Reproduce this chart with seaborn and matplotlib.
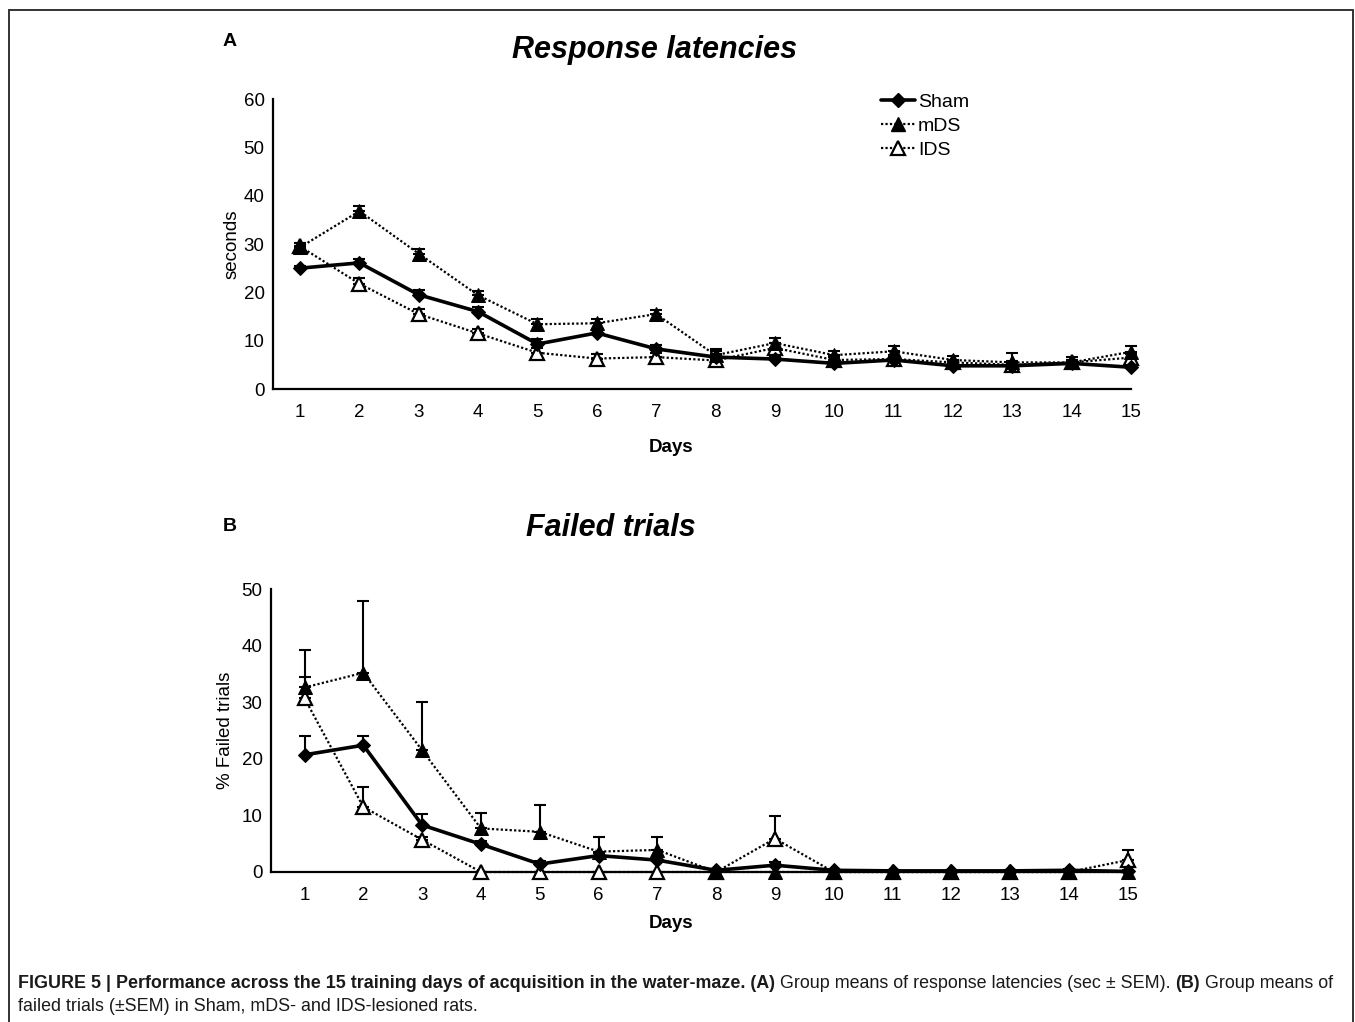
import numpy as np
import pandas as pd
import seaborn as sns
import matplotlib
matplotlib.use("Agg")
import matplotlib.pyplot as plt
from matplotlib.lines import Line2D
from matplotlib.patches import Rectangle
from matplotlib.text import Annotation

# ---------------- data ----------------
days = list(range(1, 16))
groups = ["Sham", "mDS", "IDS"]

lat_sham = [25.0, 26.1, 19.5, 16.0, 9.3, 11.6, 8.3, 6.6, 6.2, 5.3, 6.0, 4.8, 4.8, 5.3, 4.5]
lat_mds = [29.3, 36.8, 28.0, 19.4, 13.4, 13.6, 15.5, 7.0, 9.5, 7.0, 7.8, 6.0, 5.5, 5.5, 7.7]
lat_lds = [29.5, 21.8, 15.5, 11.5, 7.5, 6.3, 6.6, 5.9, 8.5, 6.0, 6.2, 5.5, 5.0, 5.5, 6.5]
lat_sham_err = [0.5, 0.8, 0.9, 1.0, 1.0, 0.7, 0.9, 0.6, 0.6, 0.5, 0.5, 0.4, 0.6, 0.7, 0.5]
lat_mds_err = [1.0, 1.0, 1.0, 0.8, 1.0, 0.8, 0.8, 1.2, 1.1, 0.8, 1.0, 0.8, 2.0, 1.2, 1.2]
lat_lds_err = [0.8, 1.2, 1.0, 1.0, 1.0, 1.0, 0.8, 2.0, 1.0, 0.7, 0.8, 0.6, 0.7, 0.6, 0.7]

fail_sham = [20.7, 22.4, 8.3, 4.9, 1.4, 2.9, 2.1, 0.3, 1.2, 0.3, 0.2, 0.2, 0.2, 0.3, 0.1]
fail_mds = [32.6, 35.2, 21.5, 7.7, 7.1, 3.6, 3.9, 0.0, 0.0, 0.0, 0.0, 0.0, 0.0, 0.0, 0.0]
fail_lds = [30.7, 11.5, 5.7, 0.0, 0.0, 0.0, 0.0, 0.0, 5.9, 0.0, 0.0, 0.0, 0.0, 0.0, 2.1]
fail_sham_err = [3.3, 1.6, 1.9, 0.5, 0.5, 0.5, 0.5, 0.2, 0.5, 0.2, 0.2, 0.2, 0.2, 0.2, 0.2]
fail_mds_err = [6.7, 12.7, 8.5, 2.7, 4.7, 2.6, 2.3, 0.0, 0.0, 0.0, 0.0, 0.0, 0.0, 0.0, 0.0]
fail_lds_err = [3.7, 3.5, 0.5, 0.0, 0.0, 0.0, 0.0, 0.0, 4.0, 0.0, 0.0, 0.0, 0.0, 0.0, 1.8]

xlabel = "Days"
ylabel_a = "seconds"
ylabel_b = "% Failed trials"
title_a = "Response latencies"
title_b = "Failed trials"

# ---------------- style ----------------
sns.set_style("white")
plt.rcParams["font.family"] = ["Liberation Sans", "DejaVu Sans"]
plt.rcParams["text.color"] = "black"
plt.rcParams["axes.labelcolor"] = "black"

W, H = 1355, 1022
fig = plt.figure(figsize=(W / 100, H / 100), dpi=100)


def fx(px):
    return px / W


def fy(py):
    return 1 - py / H


styles = {
    "Sham": dict(marker="D", markersize=7, linestyle="-", linewidth=2.6,
                 markerfacecolor="black", markeredgecolor="black"),
    "mDS": dict(marker="^", markersize=10, linestyle=(0, (1, 1)), linewidth=1.6,
                markerfacecolor="black", markeredgecolor="black"),
    "IDS": dict(marker="^", markersize=10, linestyle=(0, (1, 1)), linewidth=1.6,
                markerfacecolor="white", markeredgecolor="black", markeredgewidth=1.6),
}


def panel(ax, vals, errs, ylim, yticks, ylabel, xlim, xlab_pos, ylab_x):
    df = pd.DataFrame({
        "day": days * 3,
        "value": vals[0] + vals[1] + vals[2],
        "group": ["Sham"] * 15 + ["mDS"] * 15 + ["IDS"] * 15,
    })
    for g in ["IDS", "mDS", "Sham"]:
        sub = df[df["group"] == g]
        e = errs[groups.index(g)]
        ax.errorbar(sub["day"], sub["value"], yerr=[np.zeros(15), e], fmt="none",
                    ecolor="black", elinewidth=1.5, capsize=4, capthick=1.5,
                    clip_on=False, zorder=2)
        sns.lineplot(data=sub, x="day", y="value", ax=ax, color="black",
                     clip_on=False, zorder=3, legend=False, **styles[g])
    ax.set_xlim(*xlim)
    ax.set_ylim(*ylim)
    ax.set_xticks(days)
    ax.set_yticks(yticks)
    ax.set_xlabel(xlabel, fontsize=13.5, fontweight="bold", va="center")
    ax.set_ylabel(ylabel, fontsize=13.5, va="center")
    # label positions in figure pixels
    inv = ax.transAxes.inverted()
    disp = fig.transFigure.transform((fx(xlab_pos[0]), fy(xlab_pos[1])))
    ax.xaxis.set_label_coords(*inv.transform(disp))
    disp = fig.transFigure.transform((fx(ylab_x), 0.5))
    ax.yaxis.set_label_coords(inv.transform(disp)[0], 0.5)
    for s in ["top", "right"]:
        ax.spines[s].set_visible(False)
    for s in ["left", "bottom"]:
        ax.spines[s].set_linewidth(1.6)
        ax.spines[s].set_color("black")
    ax.tick_params(axis="both", direction="inout", length=6, width=1.4,
                   labelsize=13.5, colors="black", pad=3)
    ax.tick_params(axis="x", pad=8)


axA = fig.add_axes([fx(273), fy(389), fx(1131) - fx(273), fy(99) - fy(389)])
panel(axA, [lat_sham, lat_mds, lat_lds], [lat_sham_err, lat_mds_err, lat_lds_err],
      (0, 60), [0, 10, 20, 30, 40, 50, 60], ylabel_a, (0.545, 15.0), (671, 447), 232)

axB = fig.add_axes([fx(271), fy(872), fx(1133) - fx(271), fy(589) - fy(872)])
panel(axB, [fail_sham, fail_mds, fail_lds], [fail_sham_err, fail_mds_err, fail_lds_err],
      (0, 50), [0, 10, 20, 30, 40, 50], ylabel_b, (0.43, 15.09), (671, 923), 226)

# titles and panel letters
fig.text(fx(655), fy(50), title_a, fontsize=22, fontweight="bold", style="italic",
         ha="center", va="center")
fig.text(fx(611), fy(528), title_b, fontsize=22, fontweight="bold", style="italic",
         ha="center", va="center")
fig.text(fx(230), fy(41), "A", fontsize=14, fontweight="bold", ha="center", va="center")
fig.text(fx(230), fy(526), "B", fontsize=14, fontweight="bold", ha="center", va="center")

# legend
handles = [Line2D([], [], color="black", **styles[g]) for g in groups]
fig.legend(handles, groups, loc="upper left", bbox_to_anchor=(fx(881), fy(93)),
           frameon=False, fontsize=14, handlelength=1.75, handletextpad=0.15,
           labelspacing=0.33, borderaxespad=0, borderpad=0)

# frame around the figure
fig.patches.append(Rectangle((fx(9), -0.02), fx(1353) - fx(9), fy(10) + 0.02,
                             transform=fig.transFigure, fill=False,
                             edgecolor="#333333", linewidth=1.4))

# caption (bold and regular pieces chained one after the other)
cap_size = 12.9
cap_color = "#1a1a1a"
pieces1 = [
    ("FIGURE 5 | Performance across the 15 training days of acquisition in the water-maze. (A)", "bold"),
    (" Group means of response latencies (sec \u00b1 SEM). ", "normal"),
    ("(B)", "bold"),
    (" Group means of", "normal"),
]
prev = fig.text(fx(18), fy(983), pieces1[0][0], fontsize=cap_size, fontweight=pieces1[0][1],
                ha="left", va="center", color=cap_color)
for txt, wt in pieces1[1:]:
    ann = Annotation(txt, xy=(1, 0.5), xycoords=prev, xytext=(0, 0),
                     textcoords="offset points", fontsize=cap_size, fontweight=wt,
                     ha="left", va="center", color=cap_color)
    fig.add_artist(ann)
    prev = ann
fig.text(fx(18), fy(1006), "failed trials (\u00b1SEM) in Sham, mDS- and IDS-lesioned rats.",
         fontsize=cap_size, ha="left", va="center", color=cap_color)

fig.savefig("out.png", dpi=100)
